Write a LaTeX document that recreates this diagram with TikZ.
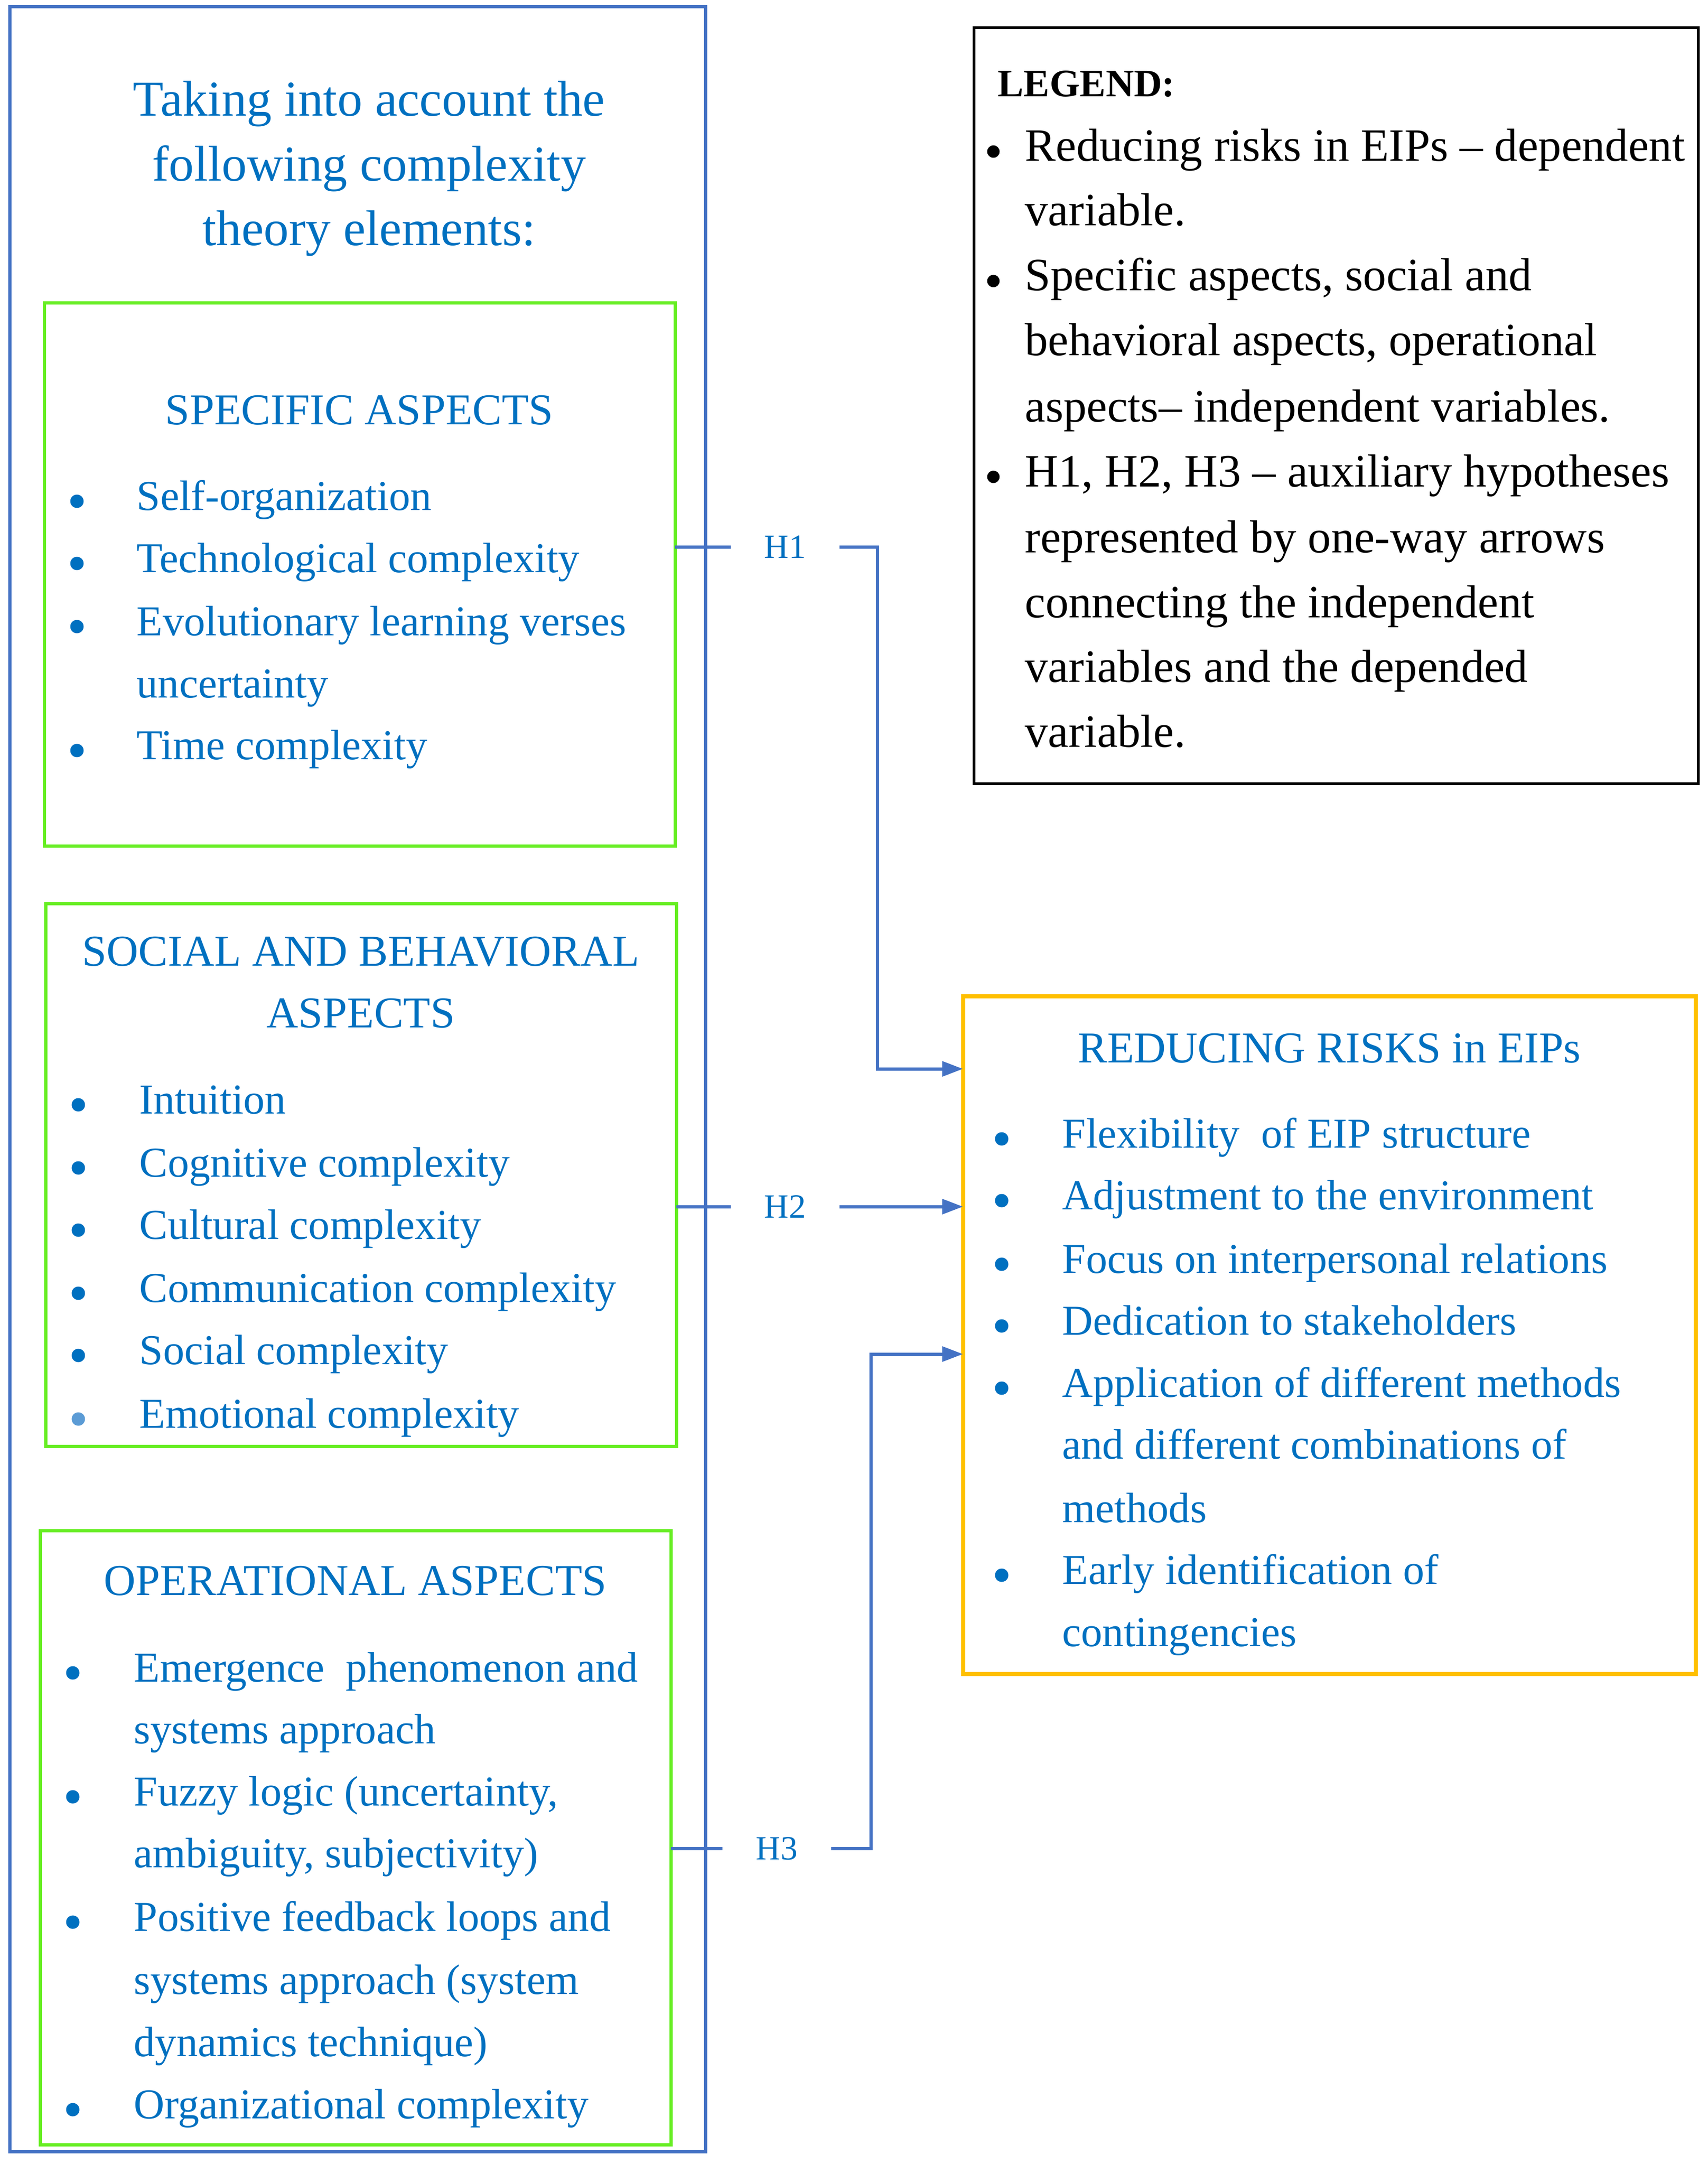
\documentclass[tikz,border=0pt]{standalone}
\usepackage{fontspec}
\setmainfont{Liberation Serif}
\usetikzlibrary{arrows.meta}
\definecolor{txtblue}{HTML}{0070C0}
\definecolor{lineblue}{HTML}{4472C4}
\definecolor{boxgreen}{HTML}{66EE22}
\definecolor{boxorange}{HTML}{FFC000}
\definecolor{lightdot}{HTML}{5B9BD5}
\newcommand\titlefont{\fontsize{31pt}{40pt}\selectfont}
\newcommand\legfont{\fontsize{28.6pt}{40pt}\selectfont}
\newcommand\legheadfont{\fontsize{24pt}{30pt}\selectfont\bfseries}
\newcommand\bodyfont{\fontsize{26.3pt}{38pt}\selectfont}
\newcommand\capfont{\fontsize{27.2pt}{38pt}\selectfont}
\newcommand\hfont{\fontsize{21pt}{24pt}\selectfont}
\tikzset{
  outerbox/.style={draw=lineblue, line width=0.07cm, outer sep=0, inner sep=0, anchor=north west},
  greenbox/.style={draw=boxgreen, line width=0.07cm, outer sep=0, inner sep=0, anchor=north west},
  orangebox/.style={draw=boxorange, line width=0.09cm, outer sep=0, inner sep=0, anchor=north west},
  legbox/.style={draw=black, line width=0.065cm, outer sep=0, inner sep=0, anchor=north west},
  bt/.style={anchor=base west, inner sep=0, text=txtblue, font=\bodyfont},
  bc/.style={anchor=base, inner sep=0, text=txtblue, font=\capfont},
  tt/.style={anchor=base, inner sep=0, text=txtblue, font=\titlefont},
  lt/.style={anchor=base west, inner sep=0, text=black, font=\legfont},
  bdot/.style={circle, fill=txtblue, inner sep=0, minimum size=0.29cm},
  ldot/.style={circle, fill=black, inner sep=0, minimum size=0.27cm},
  hlab/.style={text=txtblue, font=\hfont, inner ysep=0, inner xsep=0.72cm},
  conn/.style={draw=lineblue, line width=0.07cm},
  arr/.style={conn, -{Triangle[length=0.45cm, width=0.32cm]}}
}
\begin{document}
\begin{tikzpicture}
\useasboundingbox (0,0) rectangle (37.07,-46.97);
% outer box and title
\node[outerbox, minimum width=15.10cm, minimum height=46.55cm] (outer) at (0.21,-0.15) {};
\node[tt] (t1) at (8.01,-2.52) {Taking into account the};
\node[tt] (t2) at (8.01,-3.93) {following complexity};
\node[tt] (t3) at (8.01,-5.33) {theory elements:};
% box 1
\node[greenbox, minimum width=13.69cm, minimum height=11.78cm] (g1) at (0.96,-6.58) {};
\node[bc] (g1t) at (7.80,-9.21) {SPECIFIC ASPECTS};
\node[bdot] (g1b1) at (1.67,-10.88) {};
\node[bt] (g1i1) at (2.96,-11.07) {Self-organization};
\node[bdot] (g1b2) at (1.67,-12.23) {};
\node[bt] (g1i2) at (2.96,-12.42) {Technological complexity};
\node[bdot] (g1b3) at (1.67,-13.60) {};
\node[bt] (g1i3) at (2.96,-13.79) {Evolutionary learning verses};
\node[bt] (g1i3b) at (2.96,-15.14) {uncertainty};
\node[bdot] (g1b4) at (1.67,-16.29) {};
\node[bt] (g1i4) at (2.96,-16.48) {Time complexity};
% box 2
\node[greenbox, minimum width=13.69cm, minimum height=11.78cm] (g2) at (0.99,-19.61) {};
\node[bc] (g2t1) at (7.83,-20.96) {SOCIAL AND BEHAVIORAL};
\node[bc] (g2t2) at (7.83,-22.30) {ASPECTS};
\node[bdot] (g2b1) at (1.70,-23.98) {};
\node[bt] (g2i1) at (3.02,-24.17) {Intuition};
\node[bdot] (g2b2) at (1.70,-25.35) {};
\node[bt] (g2i2) at (3.02,-25.54) {Cognitive complexity};
\node[bdot] (g2b3) at (1.70,-26.70) {};
\node[bt] (g2i3) at (3.02,-26.89) {Cultural complexity};
\node[bdot] (g2b4) at (1.70,-28.07) {};
\node[bt] (g2i4) at (3.02,-28.26) {Communication complexity};
\node[bdot] (g2b5) at (1.70,-29.42) {};
\node[bt] (g2i5) at (3.02,-29.61) {Social complexity};
\node[bdot, fill=lightdot] (g2b6) at (1.70,-30.80) {};
\node[bt] (g2i6) at (3.02,-30.99) {Emotional complexity};
% box 3
\node[greenbox, minimum width=13.69cm, minimum height=13.33cm] (g3) at (0.87,-33.22) {};
\node[bc] (g3t) at (7.71,-34.62) {OPERATIONAL ASPECTS};
\node[bdot] (g3b1) at (1.58,-36.31) {};
\node[bt] (g3i1) at (2.90,-36.50) {Emergence\ \ phenomenon and};
\node[bt] (g3i1b) at (2.90,-37.84) {systems approach};
\node[bdot] (g3b2) at (1.58,-39.00) {};
\node[bt] (g3i2) at (2.90,-39.19) {Fuzzy logic (uncertainty,};
\node[bt] (g3i2b) at (2.90,-40.53) {ambiguity, subjectivity)};
\node[bdot] (g3b3) at (1.58,-41.72) {};
\node[bt] (g3i3) at (2.90,-41.91) {Positive feedback loops and};
\node[bt] (g3i3b) at (2.90,-43.28) {systems approach (system};
\node[bt] (g3i3c) at (2.90,-44.63) {dynamics technique)};
\node[bdot] (g3b4) at (1.58,-45.79) {};
\node[bt] (g3i4) at (2.90,-45.98) {Organizational complexity};
% legend
\node[legbox, minimum width=15.72cm, minimum height=16.41cm] (leg) at (21.14,-0.60) {};
\node[lt, font=\legheadfont] (legt) at (21.65,-2.10) {LEGEND:};
\node[ldot] (lb1) at (21.56,-3.29) {};
\node[lt] (l1) at (22.24,-3.50) {Reducing risks in EIPs -- dependent};
\node[lt] (l2) at (22.24,-4.90) {variable.};
\node[ldot] (lb2) at (21.56,-6.10) {};
\node[lt] (l3) at (22.24,-6.31) {Specific aspects, social and};
\node[lt] (l4) at (22.24,-7.71) {behavioral aspects, operational};
\node[lt] (l5) at (22.24,-9.15) {aspects-- independent variables.};
\node[ldot] (lb3) at (21.56,-10.35) {};
\node[lt] (l6) at (22.24,-10.56) {H1, H2, H3 -- auxiliary hypotheses};
\node[lt] (l7) at (22.24,-11.99) {represented by one-way arrows};
\node[lt] (l8) at (22.24,-13.40) {connecting the independent};
\node[lt] (l9) at (22.24,-14.80) {variables and the depended};
\node[lt] (l10) at (22.24,-16.21) {variable.};
% orange box
\node[orangebox, minimum width=15.90cm, minimum height=14.71cm] (risk) at (20.90,-21.62) {};
\node[bc] (rt) at (28.85,-23.06) {REDUCING RISKS in EIPs};
\node[bdot] (rb1) at (21.74,-24.72) {};
\node[bt] (r1) at (23.05,-24.91) {Flexibility\ \ of EIP structure};
\node[bdot] (rb2) at (21.74,-26.06) {};
\node[bt] (r2) at (23.05,-26.25) {Adjustment to the environment};
\node[bdot] (rb3) at (21.74,-27.44) {};
\node[bt] (r3) at (23.05,-27.63) {Focus on interpersonal relations};
\node[bdot] (rb4) at (21.74,-28.78) {};
\node[bt] (r4) at (23.05,-28.97) {Dedication to stakeholders};
\node[bdot] (rb5) at (21.74,-30.13) {};
\node[bt] (r5) at (23.05,-30.32) {Application of different methods};
\node[bt] (r5b) at (23.05,-31.66) {and different combinations of};
\node[bt] (r5c) at (23.05,-33.04) {methods};
\node[bdot] (rb6) at (21.74,-34.19) {};
\node[bt] (r6) at (23.05,-34.38) {Early identification of};
\node[bt] (r6b) at (23.05,-35.73) {contingencies};
% hypotheses connectors
\node[hlab] (h1) at (17.04,-11.87) {H1};
\node[hlab] (h2) at (17.04,-26.19) {H2};
\node[hlab] (h3) at (16.86,-40.12) {H3};
\coordinate (k1) at (19.04,-23.20);
\coordinate (k3) at (18.90,-29.39);
\draw[conn] (g1.east |- h1.west) -- (h1.west);
\draw[arr] (h1.east) -| (k1) -- (k1 -| risk.west);
\draw[conn] (g2.east |- h2.west) -- (h2.west);
\draw[arr] (h2.east) -- (h2.east -| risk.west);
\draw[conn] (g3.east |- h3.west) -- (h3.west);
\draw[arr] (h3.east) -| (k3) -- (k3 -| risk.west);
\end{tikzpicture}
\end{document}
